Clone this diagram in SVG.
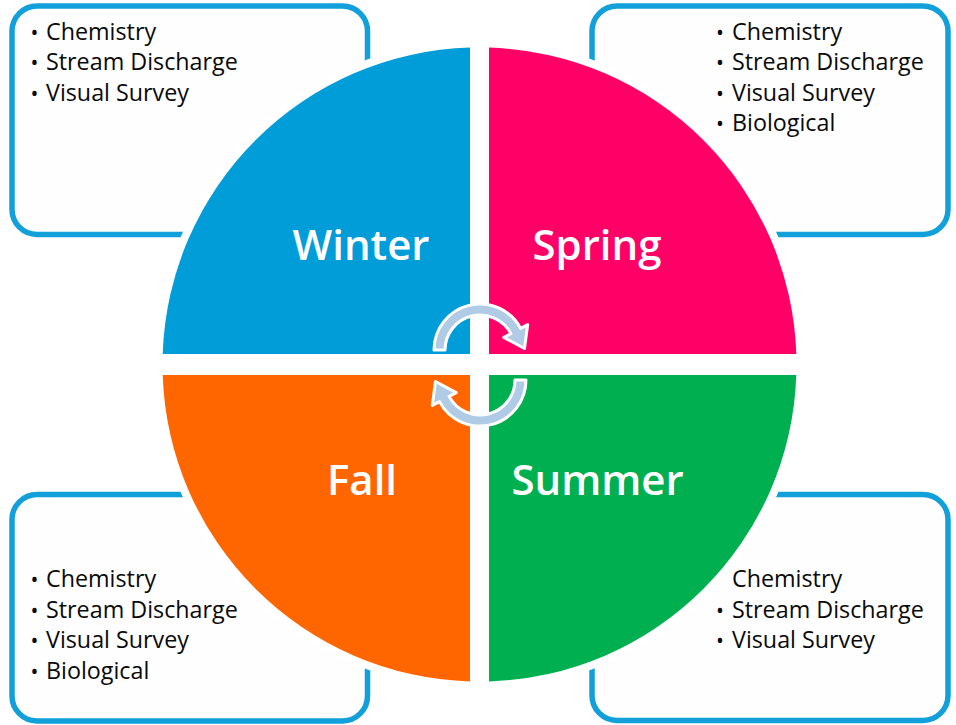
<svg xmlns="http://www.w3.org/2000/svg" width="956" height="725" viewBox="0 0 956 725">
<style>
.box{fill:#fefefe;stroke:#11a0da;stroke-width:5.5}
.item{font-family:"Open Sans","Noto Sans","DejaVu Sans",sans-serif;font-size:23.3px;fill:#0a0a0a}
.dot{font-family:"Open Sans","Noto Sans","DejaVu Sans",sans-serif;font-size:21px;fill:#0a0a0a}
.lbl{font-family:"Open Sans","Noto Sans","DejaVu Sans",sans-serif;font-size:42px;font-weight:600;fill:#ffffff;text-anchor:middle}
.arrow{fill:#b0cbe6;stroke:#ffffff;stroke-width:3;stroke-linejoin:round}
</style>
<rect width="956" height="725" fill="#ffffff"/>
<g id="box-winter">
<rect class="box" x="12" y="6" width="355.5" height="228.5" rx="25"/>
<text class="dot" x="30.5" y="39.5">•</text><text class="item" x="46" y="39.5">Chemistry</text>
<text class="dot" x="30.5" y="70">•</text><text class="item" x="46" y="70">Stream Discharge</text>
<text class="dot" x="30.5" y="100.5">•</text><text class="item" x="46" y="100.5">Visual Survey</text>
</g>
<g id="box-spring">
<rect class="box" x="592" y="6" width="356" height="228.5" rx="25"/>
<text class="dot" x="716" y="39.5">•</text><text class="item" x="732" y="39.5">Chemistry</text>
<text class="dot" x="716" y="70">•</text><text class="item" x="732" y="70">Stream Discharge</text>
<text class="dot" x="716" y="100.5">•</text><text class="item" x="732" y="100.5">Visual Survey</text>
<text class="dot" x="716" y="131">•</text><text class="item" x="732" y="131">Biological</text>
</g>
<g id="box-fall">
<rect class="box" x="12" y="494.5" width="355.5" height="226.5" rx="25"/>
<text class="dot" x="30.5" y="587">•</text><text class="item" x="46" y="587">Chemistry</text>
<text class="dot" x="30.5" y="617.5">•</text><text class="item" x="46" y="617.5">Stream Discharge</text>
<text class="dot" x="30.5" y="648">•</text><text class="item" x="46" y="648">Visual Survey</text>
<text class="dot" x="30.5" y="678.5">•</text><text class="item" x="46" y="678.5">Biological</text>
</g>
<g id="box-summer">
<rect class="box" x="592" y="494.5" width="356" height="226" rx="25"/>
<text class="item" x="732" y="587">Chemistry</text>
<text class="dot" x="716" y="617.5">•</text><text class="item" x="732" y="617.5">Stream Discharge</text>
<text class="dot" x="716" y="648">•</text><text class="item" x="732" y="648">Visual Survey</text>
</g>
<circle cx="479.5" cy="364.5" r="325" fill="#ffffff"/>
<g id="winter">
<path d="M470,354 L470,47.6 A317,317 0 0 0 162.7,354 Z" fill="#009dd9"/>
<text class="lbl" x="361" y="260">Winter</text>
</g>
<g id="spring">
<path d="M489,354 L489,47.6 A317,317 0 0 1 796.3,354 Z" fill="#ff0066"/>
<text class="lbl" x="597" y="260">Spring</text>
</g>
<g id="summer">
<path d="M489,375 L796.3,375 A317,317 0 0 1 489,681.4 Z" fill="#00b050"/>
<text class="lbl" x="597.5" y="495">Summer</text>
</g>
<g id="fall">
<path d="M470,375 L470,681.4 A317,317 0 0 1 162.7,375 Z" fill="#ff6600"/>
<text class="lbl" x="362" y="495">Fall</text>
</g>
<g id="connectors">
<path id="arrow-top" class="arrow" d="M434,350 A46,46 0 0 1 520.6,328.4 L527.7,324.6 L524.5,348.5 L503.8,337.4 L510.9,333.6 A35,35 0 0 0 445,350 Z"/>
<path id="arrow-bottom" class="arrow" transform="rotate(180 480 365)" d="M434,350 A46,46 0 0 1 520.6,328.4 L527.7,324.6 L524.5,348.5 L503.8,337.4 L510.9,333.6 A35,35 0 0 0 445,350 Z"/>
</g>
</svg>
